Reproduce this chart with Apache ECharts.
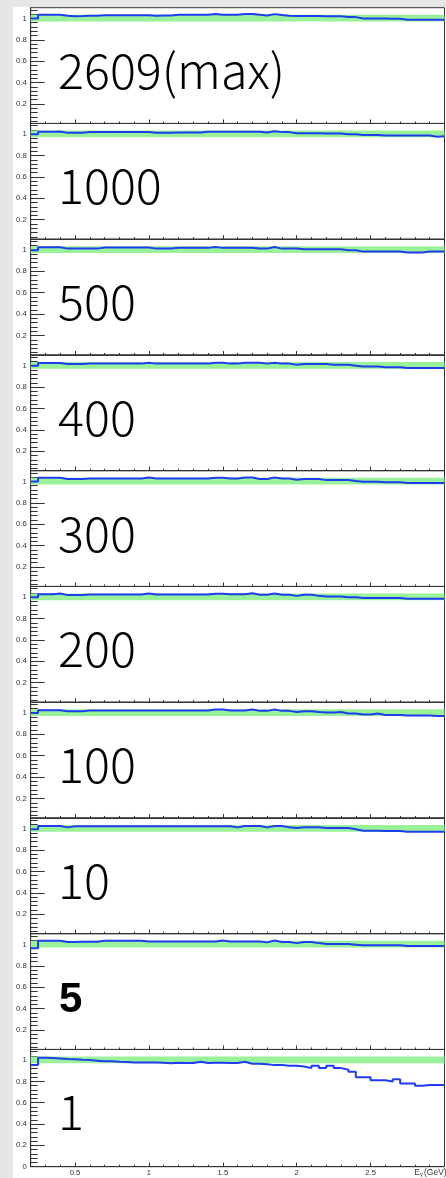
<!DOCTYPE html>
<html><head><meta charset="utf-8">
<script src="https://cdn.jsdelivr.net/npm/echarts@6/dist/echarts.min.js"></script>
<style>
html,body{margin:0;padding:0;background:#e6e6e6;width:446px;height:1178px;overflow:hidden}
#chart{position:absolute;left:13px;top:7px;width:433px;height:1171px;background:#fff}
</style></head><body><div id="chart"></div>
<script>
// ---- data ----
const PANEL_LABELS = ['2609(max)','1000','500','400','300','200','100','10','5','1'];
const BOLD_LABELS = ['5'];
const X_MIN = 0.2, X_MAX = 3.0;
const Y_MAX = 1.1;
const X_MAJOR = [0.5,1,1.5,2,2.5];
const X_MINOR = [0.3,0.4,0.6,0.7,0.8,0.9,1.1,1.2,1.3,1.4,1.6,1.7,1.8,1.9,2.1,2.2,2.3,2.4,2.6,2.7,2.8,2.9];
const Y_MAJOR = [0,0.2,0.4,0.6,0.8,1];
const Y_MINOR = [0.04,0.08,0.12,0.16,0.24,0.28,0.32,0.36,0.44,0.48,0.52,0.56,0.64,0.68,0.72,0.76,0.84,0.88,0.92,0.96,1.04,1.08];
const BAND = [0.97,1.035];
const BIN_EDGES = [0.20,0.25,0.30,0.35,0.40,0.45,0.50,0.55,0.60,0.65,0.70,0.75,0.80,0.85,0.90,0.95,1.00,1.05,1.10,1.15,1.20,1.25,1.30,1.35,1.40,1.45,1.50,1.55,1.60,1.65,1.70,1.75,1.80,1.85,1.90,1.95,2.00,2.05,2.10,2.15,2.20,2.25,2.30,2.35,2.40,2.45,2.50,2.55,2.60,2.65,2.70,2.75,2.80,2.85,2.90,2.95,3.00];

const R_2609 = [1.000,1.035,1.035,1.035,1.025,1.020,1.022,1.025,1.025,1.030,1.030,1.030,1.030,1.030,1.030,1.030,1.025,1.028,1.028,1.034,1.034,1.034,1.034,1.034,1.040,1.034,1.034,1.034,1.040,1.040,1.034,1.028,1.040,1.031,1.025,1.022,1.022,1.022,1.022,1.019,1.019,1.019,1.012,1.012,1.000,1.000,1.000,1.000,0.997,0.997,0.988,0.988,0.988,0.988,0.988,0.988];
const R_1000 = [1.000,1.022,1.022,1.025,1.012,1.012,1.012,1.019,1.019,1.019,1.019,1.019,1.019,1.019,1.019,1.019,1.012,1.012,1.012,1.016,1.016,1.016,1.016,1.022,1.022,1.022,1.022,1.022,1.022,1.022,1.022,1.016,1.028,1.019,1.019,1.009,1.009,1.009,1.009,1.006,1.006,1.006,1.000,1.000,0.991,0.991,0.991,0.988,0.988,0.988,0.988,0.988,0.988,0.988,0.975,0.981];
const R_500 = [0.997,1.025,1.025,1.025,1.012,1.012,1.012,1.012,1.012,1.022,1.022,1.022,1.022,1.022,1.022,1.022,1.012,1.012,1.012,1.019,1.019,1.019,1.019,1.019,1.028,1.019,1.019,1.019,1.019,1.019,1.012,1.012,1.028,1.012,1.012,1.012,1.006,1.006,1.006,1.006,1.006,1.006,0.997,0.997,0.984,0.984,0.984,0.984,0.984,0.984,0.975,0.975,0.975,0.984,0.984,0.984];
const R_400 = [1.000,1.025,1.025,1.025,1.016,1.016,1.016,1.019,1.019,1.019,1.019,1.019,1.019,1.019,1.019,1.028,1.019,1.019,1.019,1.019,1.019,1.019,1.019,1.019,1.028,1.028,1.019,1.019,1.028,1.028,1.028,1.019,1.028,1.019,1.019,1.009,1.016,1.016,1.016,1.016,1.009,1.009,1.009,1.000,0.991,0.991,0.991,0.984,0.984,0.984,0.978,0.978,0.978,0.978,0.978,0.978];
const R_300 = [1.000,1.034,1.034,1.034,1.022,1.022,1.022,1.028,1.028,1.028,1.028,1.028,1.028,1.028,1.028,1.037,1.028,1.028,1.028,1.028,1.028,1.028,1.028,1.028,1.034,1.034,1.028,1.028,1.037,1.037,1.022,1.022,1.037,1.028,1.028,1.016,1.022,1.022,1.022,1.012,1.012,1.012,1.012,1.003,0.997,0.997,0.997,0.991,0.991,0.991,0.984,0.984,0.984,0.984,0.984,0.984];
const R_200 = [1.000,1.028,1.028,1.034,1.019,1.019,1.019,1.025,1.025,1.025,1.025,1.025,1.025,1.025,1.025,1.034,1.025,1.025,1.025,1.025,1.025,1.025,1.025,1.025,1.031,1.031,1.028,1.028,1.028,1.037,1.022,1.022,1.034,1.022,1.022,1.012,1.022,1.022,1.012,1.006,1.006,1.006,1.000,1.000,0.991,0.991,0.991,0.991,0.991,0.991,0.984,0.984,0.984,0.984,0.984,0.984];
const R_100 = [1.000,1.025,1.025,1.025,1.016,1.016,1.016,1.022,1.022,1.022,1.022,1.022,1.022,1.022,1.022,1.022,1.022,1.022,1.022,1.022,1.022,1.022,1.022,1.022,1.031,1.031,1.022,1.022,1.022,1.031,1.019,1.019,1.031,1.019,1.019,1.009,1.016,1.016,1.009,1.003,1.003,1.009,0.994,0.994,0.984,0.984,0.994,0.981,0.981,0.981,0.975,0.975,0.975,0.975,0.972,0.972];
const R_10 = [0.994,1.025,1.025,1.025,1.012,1.022,1.022,1.022,1.022,1.022,1.022,1.022,1.022,1.022,1.022,1.022,1.022,1.022,1.022,1.022,1.022,1.022,1.022,1.022,1.022,1.022,1.022,1.012,1.025,1.025,1.025,1.012,1.025,1.025,1.012,1.006,1.012,1.012,1.012,1.006,1.006,1.006,1.006,0.994,0.981,0.981,0.981,0.978,0.978,0.978,0.972,0.972,0.972,0.972,0.972,0.972];
const R_5 = [0.965,1.034,1.034,1.034,1.022,1.022,1.025,1.025,1.025,1.034,1.034,1.034,1.034,1.034,1.034,1.028,1.028,1.028,1.028,1.028,1.028,1.028,1.028,1.028,1.028,1.037,1.028,1.028,1.028,1.028,1.028,1.019,1.037,1.022,1.022,1.012,1.022,1.022,1.012,1.003,1.003,1.003,1.003,0.997,0.991,0.991,0.991,0.991,0.991,0.991,0.984,0.984,0.984,0.984,0.984,0.984];
const R_1 = [0.953,1.022,1.019,1.016,1.010,1.008,1.003,1.000,0.995,0.990,0.990,0.985,0.983,0.978,0.978,0.978,0.977,0.975,0.970,0.975,0.972,0.972,0.984,0.972,0.975,0.975,0.972,0.972,0.984,0.966,0.966,0.962,0.953,0.953,0.947,0.947,0.940,0.925,0.947,0.925,0.947,0.925,0.910,0.890,0.840,0.840,0.810,0.810,0.800,0.820,0.780,0.780,0.760,0.767,0.767,0.767];
const RATIOS = [R_2609,R_1000,R_500,R_400,R_300,R_200,R_100,R_10,R_5,R_1];

// ---- layout ----
const GRID_LEFT = 17.5, GRID_RIGHT = 1.5;
const PANEL_TOP0 = 0.7, PANEL_PITCH = 115.75, PANEL_H = 115.75, LAST_PANEL_H = 117.25;
const PX_PER_UNIT = 107;
const FRAME = '#333';
const LINE_COLOR = '#1f3cf0';
const BAND_COLOR = '#99f299';
const AXIS_FONT = 'Liberation Sans, Arial, sans-serif';
const N = PANEL_LABELS.length;

const grid = [], xAxis = [], yAxis = [], series = [], graphic = [];
for (let i = 0; i < N; i++) {
  const last = i === N - 1;
  const top = PANEL_TOP0 + PANEL_PITCH * i;
  const h = last ? LAST_PANEL_H : PANEL_H;
  const yMin = last ? 0 : +(Y_MAX - h / PX_PER_UNIT).toFixed(4);
  grid.push({left: GRID_LEFT, right: GRID_RIGHT, top: top, height: h, show: true,
    borderColor: FRAME, borderWidth: 1, backgroundColor: 'transparent'});
  const inRange = v => v >= yMin - 1e-9 && v <= Y_MAX + 1e-9;
  const yMaj = Y_MAJOR.filter(inRange);
  const yLab = last ? Y_MAJOR : Y_MAJOR.filter(v => v > 0);
  const yMin2 = Y_MINOR.filter(inRange);
  xAxis.push({type: 'value', gridIndex: i, min: X_MIN, max: X_MAX, position: 'bottom',
    axisLine: {show: true, lineStyle: {color: FRAME, width: 1}},
    axisTick: {show: true, inside: true, length: 4, customValues: X_MAJOR, lineStyle: {color: FRAME, width: 1}},
    axisLabel: {show: last, customValues: X_MAJOR, margin: 2, fontSize: 7.7, color: '#333',
      fontFamily: AXIS_FONT, formatter: v => String(v)},
    splitLine: {show: false}});
  xAxis.push({type: 'value', gridIndex: i, min: X_MIN, max: X_MAX, position: 'bottom',
    axisLine: {show: false},
    axisTick: {show: true, inside: true, length: 2, customValues: X_MINOR, lineStyle: {color: FRAME, width: 1}},
    axisLabel: {show: false}, splitLine: {show: false}});
  yAxis.push({type: 'value', gridIndex: i, min: yMin, max: Y_MAX, position: 'left',
    axisLine: {show: true, lineStyle: {color: FRAME, width: 1}},
    axisTick: {show: true, inside: true, length: 14, customValues: yMaj, lineStyle: {color: FRAME, width: 1}},
    axisLabel: {show: true, customValues: yLab, margin: 4, fontSize: 7.7, color: '#333',
      fontFamily: AXIS_FONT, formatter: v => String(v)},
    splitLine: {show: false}});
  yAxis.push({type: 'value', gridIndex: i, min: yMin, max: Y_MAX, position: 'left', offset: 0,
    axisLine: {show: false},
    axisTick: {show: true, inside: true, length: 7, customValues: yMin2, lineStyle: {color: FRAME, width: 1}},
    axisLabel: {show: false}, splitLine: {show: false}});
  const vals = RATIOS[i];
  const pts = vals.map((v, k) => [BIN_EDGES[k], v]);
  pts.push([BIN_EDGES[vals.length], vals[vals.length - 1]]);
  series.push({type: 'line', xAxisIndex: 2 * i, yAxisIndex: 2 * i, data: pts, step: 'end',
    symbol: 'none', silent: true, animation: false, z: 3,
    lineStyle: {color: LINE_COLOR, width: 2},
    markArea: {silent: true, z: 1, itemStyle: {color: BAND_COLOR, opacity: 1},
      data: [[{yAxis: BAND[0]}, {yAxis: BAND[1]}]]}});
  const bold = BOLD_LABELS.indexOf(PANEL_LABELS[i]) >= 0;
  graphic.push(bold ? {type: 'text', x: 46, y: top + 67, z: 10, silent: true,
    style: {text: PANEL_LABELS[i], fill: '#000', fontSize: 42, fontWeight: 'bold',
      fontFamily: AXIS_FONT, verticalAlign: 'middle', align: 'left'}}
  : {type: 'text', x: 45, y: top + 62.5, z: 10, silent: true,
    style: {text: PANEL_LABELS[i], fill: '#000', fontSize: 48.5, fontWeight: 300,
      fontFamily: '"Noto Sans CJK JP", "Noto Sans", sans-serif',
      verticalAlign: 'middle', align: 'left'}});
}
graphic.push({type: 'text', x: 401.3, y: 1165.7, z: 10, silent: true,
  style: {text: '{a|E}{b|γ}{a|(GeV)}', verticalAlign: 'middle', align: 'left',
    rich: {a: {fontSize: 8.5, fill: '#333', fontFamily: AXIS_FONT},
           b: {fontSize: 6, fill: '#333', fontFamily: AXIS_FONT, padding: [4, 1, 0, 0]}}}});

const chart = echarts.init(document.getElementById('chart'), null, {renderer: 'canvas'});
chart.setOption({animation: false, grid, xAxis, yAxis, series, graphic});
</script></body></html>
